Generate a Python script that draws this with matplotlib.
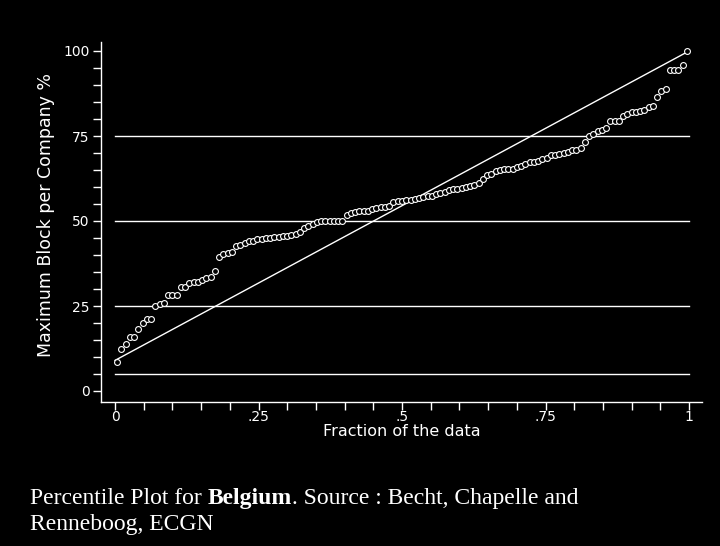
import numpy as np
import matplotlib.pyplot as plt
from matplotlib.ticker import MultipleLocator

# sorted maximum block per company (%)
block = [8.5, 12.5, 13.9, 15.8, 15.8, 18.1, 20.1, 21.3, 21.3, 24.9,
         25.6, 26.0, 28.1, 28.1, 28.1, 30.5, 30.5, 31.7, 32.0, 32.0,
         32.6, 33.3, 33.5, 35.4, 39.3, 40.2, 40.5, 40.8, 42.7, 43.0,
         43.6, 44.2, 44.2, 44.6, 44.7, 44.9, 45.1, 45.4, 45.4, 45.5,
         45.6, 45.9, 46.3, 46.9, 47.8, 48.4, 49.0, 49.8, 50.0, 50.0,
         50.0, 50.0, 50.0, 50.1, 51.8, 52.5, 52.6, 52.8, 52.9, 53.0,
         53.4, 53.7, 54.0, 54.2, 54.5, 55.5, 55.8, 55.8, 56.1, 56.3,
         56.5, 56.8, 57.1, 57.4, 57.4, 57.8, 58.3, 58.6, 59.1, 59.3,
         59.4, 59.8, 60.1, 60.3, 60.6, 61.3, 62.4, 63.4, 63.9, 64.6,
         64.9, 65.3, 65.4, 65.4, 65.8, 66.3, 66.8, 67.3, 67.3, 67.6,
         68.1, 68.6, 69.3, 69.3, 69.6, 69.9, 70.4, 70.9, 70.9, 71.6,
         73.1, 75.0, 75.6, 76.4, 76.8, 77.4, 79.3, 79.4, 79.5, 80.8,
         81.6, 82.0, 82.1, 82.3, 82.6, 83.6, 83.7, 86.4, 88.3, 88.8,
         94.3, 94.3, 94.3, 96.0, 100.0]

# reference line (uniform distribution) and horizontal guide lines
ref_x = [0, 1]
ref_y = [9.0, 100]
guide_y = [5, 25, 50, 75]

x_ticks = [0, 0.25, 0.5, 0.75, 1]
x_labels = ['0', '.25', '.5', '.75', '1']
y_ticks = [0, 25, 50, 75, 100]

n = len(block)
frac = (np.arange(1, n + 1) - 0.5) / n

fig = plt.figure(figsize=(7.2, 5.46), dpi=100, facecolor='black')
ax = fig.add_axes([101 / 720, 1 - 402 / 546, 601 / 720, 360 / 546])
ax.set_facecolor('black')

for gy in guide_y:
    ax.plot([0, 1], [gy, gy], color='white', lw=1.0)
ax.plot(ref_x, ref_y, color='white', lw=1.0)
ax.plot(frac, block, 'o', ms=4.2, mfc='black', mec='white', mew=0.8)

ax.set_xlim(-14 / 574, 587 / 574)
ax.set_ylim(-11 / 3.4, 349 / 3.4)

for side in ['top', 'right']:
    ax.spines[side].set_visible(False)
for side in ['left', 'bottom']:
    ax.spines[side].set_color('white')
    ax.spines[side].set_linewidth(1.0)

ax.set_xticks(x_ticks, x_labels)
ax.set_yticks(y_ticks)
ax.xaxis.set_minor_locator(MultipleLocator(0.05))
ax.yaxis.set_minor_locator(MultipleLocator(5))
ax.tick_params(which='both', colors='white', length=5.8, width=1.0,
               labelsize=10)
ax.tick_params(axis='x', which='both', pad=0)
ax.tick_params(axis='y', which='both', pad=2.5)

ax.set_xlabel('Fraction of the data', color='white', fontsize=11.5)
ax.xaxis.set_label_coords(0.5, -0.062)
ax.set_ylabel('Maximum Block per Company %', color='white', fontsize=12.5)
ax.yaxis.set_label_coords(-0.076, 0.519)

# caption with a bold country name
cap = dict(color='white', fontsize=17, family='Liberation Serif', va='bottom')
t1 = fig.text(30 / 720, 1 - 509 / 546, 'Percentile Plot for ', **cap)
t2 = ax.annotate('Belgium', xy=(1, 0), xycoords=t1, fontweight='bold',
                 annotation_clip=False, **cap)
ax.annotate('. Source : Becht, Chapelle and', xy=(1, 0), xycoords=t2,
            annotation_clip=False, **cap)
fig.text(30 / 720, 1 - 535 / 546, 'Renneboog, ECGN', **cap)

fig.savefig('out.png', dpi=100, facecolor='black')
